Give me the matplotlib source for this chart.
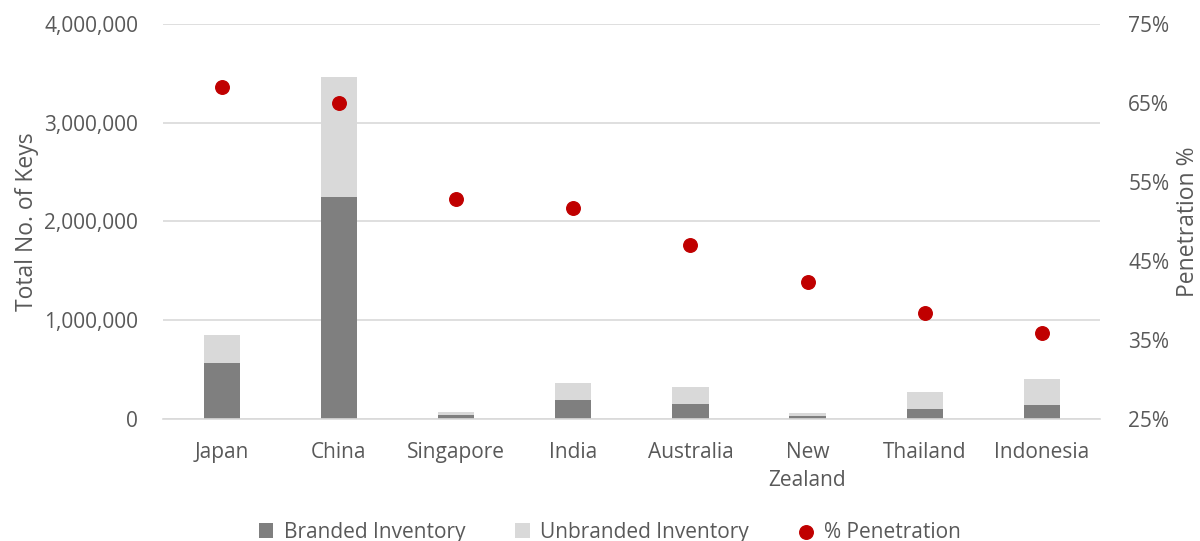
import matplotlib.pyplot as plt
import numpy as np
from matplotlib.ticker import FuncFormatter

# keys de hotel por pais (marca vs. independiente) y % de penetracion de marca
paises = ["Japan", "China", "Singapore", "India", "Australia", "New\nZealand", "Thailand", "Indonesia"]
branded = [566000, 2246000, 35000, 185000, 147000, 25000, 99000, 140000]
total = [847000, 3463000, 66000, 360000, 320000, 59000, 269000, 404000]
unbranded = [t - b for t, b in zip(total, branded)]
penetracion = [67.0, 65.0, 52.8, 51.7, 47.0, 42.3, 38.4, 35.9]

GRIS_TXT = "#595959"
plt.rcParams["font.family"] = ["Open Sans", "DejaVu Sans"]
plt.rcParams["font.size"] = 15

fig = plt.figure(figsize=(12, 5.41), dpi=100)
ax = fig.add_axes([0.136, 0.2264, 0.781, 0.7292])
x = np.arange(len(paises))
w = 0.31

b1 = ax.bar(x, branded, w, color="#7f7f7f", label="Branded Inventory", zorder=2)
b2 = ax.bar(x, unbranded, w, bottom=branded, color="#d9d9d9", label="Unbranded Inventory", zorder=2)

ax.set_xlim(-0.5, len(paises) - 0.5)
ax.set_ylim(0, 4000000)
ax.set_yticks(np.arange(0, 4000001, 1000000))
ax.yaxis.set_major_formatter(FuncFormatter(lambda v, p: f"{int(v):,}"))
ax.grid(axis="y", color="#d9d9d9", linewidth=1.2, zorder=0)
ax.set_xticks(x)
ax.set_xticklabels(paises, color=GRIS_TXT, linespacing=1.4)
ax.tick_params(axis="both", length=0, colors=GRIS_TXT, labelsize=15)
ax.tick_params(axis="x", pad=17)
ax.tick_params(axis="y", pad=18)
for s in ["top", "right", "left"]:
    ax.spines[s].set_visible(False)
ax.spines["bottom"].set_color("#d9d9d9")
ax.spines["bottom"].set_linewidth(1.2)
ax.set_ylabel("Total No. of Keys", color=GRIS_TXT, fontsize=16.5, labelpad=4)

ax2 = ax.twinx()
pts = ax2.scatter(x, penetracion, s=95, color="#c00000", label="% Penetration", zorder=3)
ax2.set_ylim(25, 75)
ax2.set_yticks(np.arange(25, 76, 10))
ax2.yaxis.set_major_formatter(FuncFormatter(lambda v, p: f"{int(v)}%"))
ax2.tick_params(axis="y", length=0, colors=GRIS_TXT, labelsize=15, pad=20)
for s in ax2.spines.values():
    s.set_visible(False)
ax2.set_ylabel("Penetration %", color=GRIS_TXT, fontsize=16.5, labelpad=5)

fig.legend(handles=[b1, b2, pts], loc="lower center", bbox_to_anchor=(0.508, -0.038),
           ncol=3, frameon=False, fontsize=15, labelcolor=GRIS_TXT,
           handlelength=0.7, handleheight=0.7, handletextpad=0.5, columnspacing=2.4)

fig.savefig("out.png", dpi=100)
